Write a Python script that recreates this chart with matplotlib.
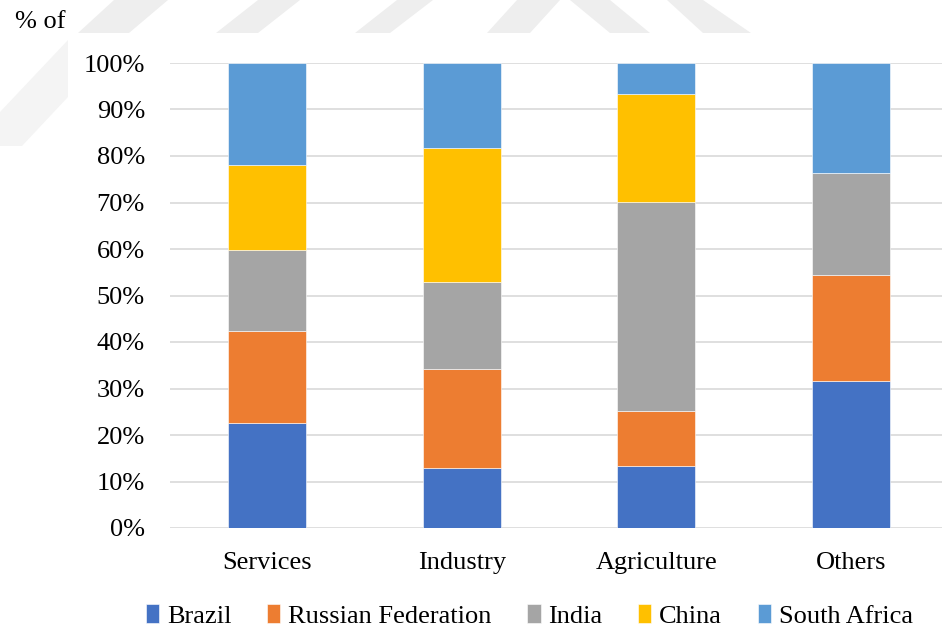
import numpy as np
import matplotlib.pyplot as plt
from matplotlib.patches import Polygon

plt.rcParams['font.family'] = ['Liberation Serif', 'DejaVu Serif']

# share of each sector by country (%)
sectors = ['Services', 'Industry', 'Agriculture', 'Others']
countries = ['Brazil', 'Russian Federation', 'India', 'China', 'South Africa']
brazil = [22.6, 12.9, 13.3, 31.6]
russia = [19.8, 21.3, 11.9, 22.8]
india = [17.4, 18.7, 44.9, 21.9]
china = [18.3, 28.8, 23.2, 0.0]
south_africa = [21.9, 18.3, 6.7, 23.7]
colors = ['#4472C4', '#ED7D31', '#A5A5A5', '#FFC000', '#5B9BD5']

W, H = 942, 628
fig = plt.figure(figsize=(W / 100, H / 100), dpi=100)


def px(pts):
    # pixel coords (from top-left) -> figure fraction
    return [(a / W, 1 - b / H) for a, b in pts]


# faint background logo stripes, only visible above/left of the plot
stripes = [
    [(114, 0), (168, 0), (129, 33), (78, 33)],
    [(258, 0), (300, 0), (258, 33), (216, 33)],
    [(397, 0), (433, 0), (390, 33), (355, 33)],
    [(517, 0), (560, 0), (530, 33), (487, 33)],
    [(570, 0), (610, 0), (650, 33), (610, 33)],
    [(667, 0), (703, 0), (751, 33), (703, 33)],
]
for pts in stripes:
    fig.patches.append(Polygon(px(pts), closed=True, transform=fig.transFigure,
                               facecolor='#EEEEEE', edgecolor='none', zorder=0))
fig.patches.append(Polygon(px([(0, 112), (68, 40), (68, 97), (22, 146), (0, 146)]),
                           closed=True, transform=fig.transFigure,
                           facecolor='#F4F4F4', edgecolor='none', zorder=0))

ax = fig.add_axes([170 / W, 100 / H, 778 / W, 465 / H])
ax.patch.set_alpha(0)

x = np.arange(len(sectors))
bottom = np.zeros(len(sectors))
for name, vals, c in zip(countries, [brazil, russia, india, china, south_africa], colors):
    vals = np.array(vals)
    ax.bar(x, vals, 0.4, bottom=bottom, color=c, label=name,
           edgecolor='white', linewidth=0.4, zorder=3)
    bottom += vals

ax.set_xlim(-0.5, 3.5)
ax.set_ylim(0, 100)
ax.set_yticks(np.arange(0, 101, 10))
ax.set_yticklabels(['%d%%' % v for v in range(0, 101, 10)])
ax.set_xticks(x)
ax.set_xticklabels(sectors)
ax.grid(axis='y', color='#D9D9D9', linewidth=1.2, zorder=0)
for s in ax.spines.values():
    s.set_visible(False)
ax.tick_params(length=0, labelsize=19, colors='black')
ax.tick_params(axis='y', pad=18)
ax.tick_params(axis='x', pad=17)

fig.text(15 / W, 1 - 22 / H, '% of', fontsize=19, va='center', ha='left')

ax.legend(loc='center', bbox_to_anchor=(0.462, -0.189), ncol=5, frameon=False,
          fontsize=19, handlelength=0.5, handleheight=0.7, handletextpad=0.3,
          columnspacing=1.35)

fig.savefig('out.png', dpi=100)
